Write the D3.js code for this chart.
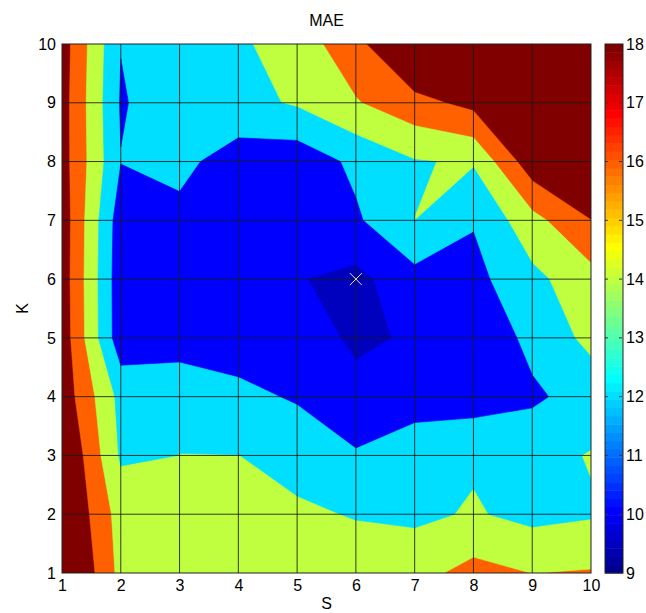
<!DOCTYPE html>
<html>
<head>
<meta charset="utf-8">
<script src="https://cdn.jsdelivr.net/npm/d3@7"></script>
<style>
  body { margin: 0; background: #fff; }
  text { font-family: "Liberation Sans", Arial, sans-serif; fill: #000; }
</style>
</head>
<body>
<script>
// grid axes
const sValues = [1, 2, 3, 4, 5, 6, 7, 8, 9, 10];
const kValues = [1, 2, 3, 4, 5, 6, 7, 8, 9, 10];

// MAE per K row, one value per S column
const maeK1  = [21.3, 15.42, 15.2, 15.0, 14.9, 14.9, 15.33, 16.67, 15.98, 16.16];
const maeK2  = [20.5, 15.15, 14.8, 14.7, 14.27, 13.9, 13.6, 14.19, 13.45, 13.81];
const maeK3  = [20.4, 13.75, 14.01, 14.02, 13.4, 12.22, 13.4, 13.76, 13.32, 14.13];
const maeK4  = [19.3, 13.4, 13.73, 12.54, 11.79, 10.51, 10.9, 11.01, 11.69, 12.8];
const maeK5  = [19.25, 10.78, 10.8, 10.95, 10.9, 9.7, 10.2, 10.5, 12.53, 14.56];
const maeK6  = [19.15, 10.74, 10.9, 10.7, 10.13, 9.45, 11.35, 11.42, 13.5, 15.26];
const maeK7  = [19.2, 10.9, 11.52, 11.2, 11.0, 11.72, 14.01, 12.145, 15.34, 17.98];
const maeK8  = [18.9, 12.05, 12.5, 11.1, 10.74, 12.45, 13.88, 14.21, 19.3, 20.5];
const maeK9  = [18.9, 11.85, 13.0, 13.33, 14.25, 15.85, 17.35, 18.6, 20.5, 21.0];
const maeK10 = [19.0, 12.05, 13.0, 13.7, 14.94, 17.35, 21.0, 21.0, 21.0, 21.5];
const maeRows = [maeK1, maeK2, maeK3, maeK4, maeK5, maeK6, maeK7, maeK8, maeK9, maeK10];

const levels = [10, 12, 14, 16, 18];
const colorbarTicks = [9, 10, 11, 12, 13, 14, 15, 16, 17, 18];
const cMin = 9, cMax = 18;

// matlab style jet colormap
function jet(m) {
    const n = Math.ceil(m / 4);
    const u = [];
    for (let i = 1; i <= n; i++) u.push(i / n);
    for (let i = 1; i < n; i++) u.push(1);
    for (let i = n; i >= 1; i--) u.push(i / n);
    const g0 = Math.ceil(n / 2) - (m % 4 === 1 ? 1 : 0);
    const map = d3.range(m).map(() => [0, 0, 0]);
    u.forEach((val, i) => {
        const g = g0 + i + 1, r = g + n, b = g - n;
        if (g >= 1 && g <= m) map[g - 1][1] = val;
        if (r >= 1 && r <= m) map[r - 1][0] = val;
        if (b >= 1 && b <= m) map[b - 1][2] = val;
    });
    return map;
}

function createContourChart(width, height) {
    const margin = {top: 44, left: 62};
    const plotW = 529, plotH = 529;
    const cmap = jet(64);
    const fontSize = "16px";

    const colorOf = v => {
        let i = Math.floor((v - cMin) / (cMax - cMin) * cmap.length);
        i = Math.max(0, Math.min(cmap.length - 1, i));
        const c = cmap[i];
        return d3.rgb(c[0] * 255, c[1] * 255, c[2] * 255).formatHex();
    };

    const x = d3.scaleLinear().domain(d3.extent(sValues)).range([0, plotW]);
    const y = d3.scaleLinear().domain(d3.extent(kValues)).range([plotH, 0]);

    const svg = d3.select("body").append("svg")
        .attr("width", width)
        .attr("height", height);

    svg.append("text")
        .attr("x", margin.left + plotW / 2)
        .attr("y", 26)
        .attr("text-anchor", "middle")
        .style("font-size", fontSize)
        .text("MAE");

    const g = svg.append("g")
        .attr("transform", "translate(" + margin.left + "," + margin.top + ")");

    g.append("clipPath").attr("id", "plotclip")
      .append("rect")
        .attr("width", plotW)
        .attr("height", plotH);

    const nx = sValues.length, ny = kValues.length;
    // negate so that saddle cells join the high regions (like matlab did here)
    const negValues = [];
    maeRows.forEach(row => row.forEach(v => negValues.push(-v)));
    const allValues = maeRows.flat();

    const stepS = sValues[1] - sValues[0];
    const stepK = kValues[1] - kValues[0];
    const project = d3.geoTransform({
        point: function(cx, cy) {
            this.stream.point(
                x(sValues[0] + (cx - 0.5) * stepS),
                y(kValues[0] + (cy - 0.5) * stepK));
        }
    });
    const path = d3.geoPath(project);
    const contours = d3.contours().size([nx, ny]);

    const fills = g.append("g").attr("clip-path", "url(#plotclip)");

    // top band first, then each "value <= level" region painted over it
    fills.append("rect")
        .attr("width", plotW)
        .attr("height", plotH)
        .attr("fill", colorOf(levels[levels.length - 1]));

    const bands = levels.slice().reverse().map((lv, i, arr) => {
        const lower = i < arr.length - 1 ? arr[i + 1] : d3.min(allValues);
        return {level: lv, color: colorOf(lower)};
    });

    fills.selectAll("path.band")
        .data(bands)
        .enter().append("path")
        .attr("class", "band")
        .attr("d", d => path(contours.contour(negValues, -d.level)))
        .attr("fill", d => d.color)
        .attr("stroke", d => d.color)
        .attr("stroke-width", 0.6);

    // grid
    g.append("g").selectAll("line")
        .data(sValues.slice(1, -1))
        .enter().append("line")
        .attr("x1", d => x(d)).attr("x2", d => x(d))
        .attr("y1", 0).attr("y2", plotH)
        .attr("stroke", "#1a1a1a").attr("stroke-opacity", 0.85);
    g.append("g").selectAll("line")
        .data(kValues.slice(1, -1))
        .enter().append("line")
        .attr("y1", d => y(d)).attr("y2", d => y(d))
        .attr("x1", 0).attr("x2", plotW)
        .attr("stroke", "#1a1a1a").attr("stroke-opacity", 0.85);

    // minimum marker
    let minIdx = 0;
    allValues.forEach((v, i) => { if (v < allValues[minIdx]) minIdx = i; });
    const minS = sValues[minIdx % nx], minK = kValues[Math.floor(minIdx / nx)];
    const ms = 6;
    g.append("path")
        .attr("d", "M" + (x(minS) - ms) + "," + (y(minK) - ms) + "L" + (x(minS) + ms) + "," + (y(minK) + ms) +
                   "M" + (x(minS) - ms) + "," + (y(minK) + ms) + "L" + (x(minS) + ms) + "," + (y(minK) - ms))
        .attr("stroke", "#e8e8e8")
        .attr("stroke-width", 1);

    g.append("rect")
        .attr("width", plotW)
        .attr("height", plotH)
        .attr("fill", "none")
        .attr("stroke", "#222");

    const xAxis = g.append("g")
        .attr("transform", "translate(0," + plotH + ")")
        .call(d3.axisBottom(x).tickValues(sValues).tickFormat(d3.format("d")).tickSize(0).tickPadding(7));
    xAxis.select(".domain").remove();
    xAxis.selectAll("text").style("font-size", fontSize).attr("fill", "#000");

    const yAxis = g.append("g")
        .call(d3.axisLeft(y).tickValues(kValues).tickFormat(d3.format("d")).tickSize(0).tickPadding(6));
    yAxis.select(".domain").remove();
    yAxis.selectAll("text").style("font-size", fontSize).attr("fill", "#000");

    svg.append("text")
        .attr("x", margin.left + plotW / 2)
        .attr("y", 609)
        .attr("text-anchor", "middle")
        .style("font-size", fontSize)
        .text("S");

    svg.append("text")
        .attr("transform", "translate(28," + (margin.top + plotH / 2) + ") rotate(-90)")
        .attr("text-anchor", "middle")
        .style("font-size", fontSize)
        .text("K");

    // colorbar
    const cbX = 605, cbW = 18;
    const cy = d3.scaleLinear().domain([cMin, cMax]).range([margin.top + plotH, margin.top]);
    const cbSteps = d3.range(cmap.length);
    const stepV = (cMax - cMin) / cmap.length;
    const cb = svg.append("g");
    cb.selectAll("rect.cb")
        .data(cbSteps)
        .enter().append("rect")
        .attr("class", "cb")
        .attr("x", cbX)
        .attr("width", cbW)
        .attr("y", i => cy(cMin + (i + 1) * stepV))
        .attr("height", i => cy(cMin + i * stepV) - cy(cMin + (i + 1) * stepV) + 0.5)
        .attr("fill", i => { const c = cmap[i]; return d3.rgb(c[0] * 255, c[1] * 255, c[2] * 255).formatHex(); });

    cb.selectAll("line.tl")
        .data(colorbarTicks.slice(1, -1))
        .enter().append("line")
        .attr("class", "tl")
        .attr("x1", cbX).attr("x2", cbX + 4)
        .attr("y1", d => cy(d)).attr("y2", d => cy(d))
        .attr("stroke", "#333").attr("stroke-dasharray", "3,1");
    cb.selectAll("line.tr")
        .data(colorbarTicks.slice(1, -1))
        .enter().append("line")
        .attr("class", "tr")
        .attr("x1", cbX + cbW - 4).attr("x2", cbX + cbW)
        .attr("y1", d => cy(d)).attr("y2", d => cy(d))
        .attr("stroke", "#333").attr("stroke-dasharray", "3,1");

    cb.append("rect")
        .attr("x", cbX).attr("y", margin.top)
        .attr("width", cbW).attr("height", plotH)
        .attr("fill", "none").attr("stroke", "#222");

    cb.selectAll("text")
        .data(colorbarTicks)
        .enter().append("text")
        .attr("x", cbX + cbW + 3)
        .attr("y", d => cy(d))
        .attr("dy", "0.35em")
        .style("font-size", fontSize)
        .text(d => d);
}

createContourChart(646, 613);
</script>
</body>
</html>
